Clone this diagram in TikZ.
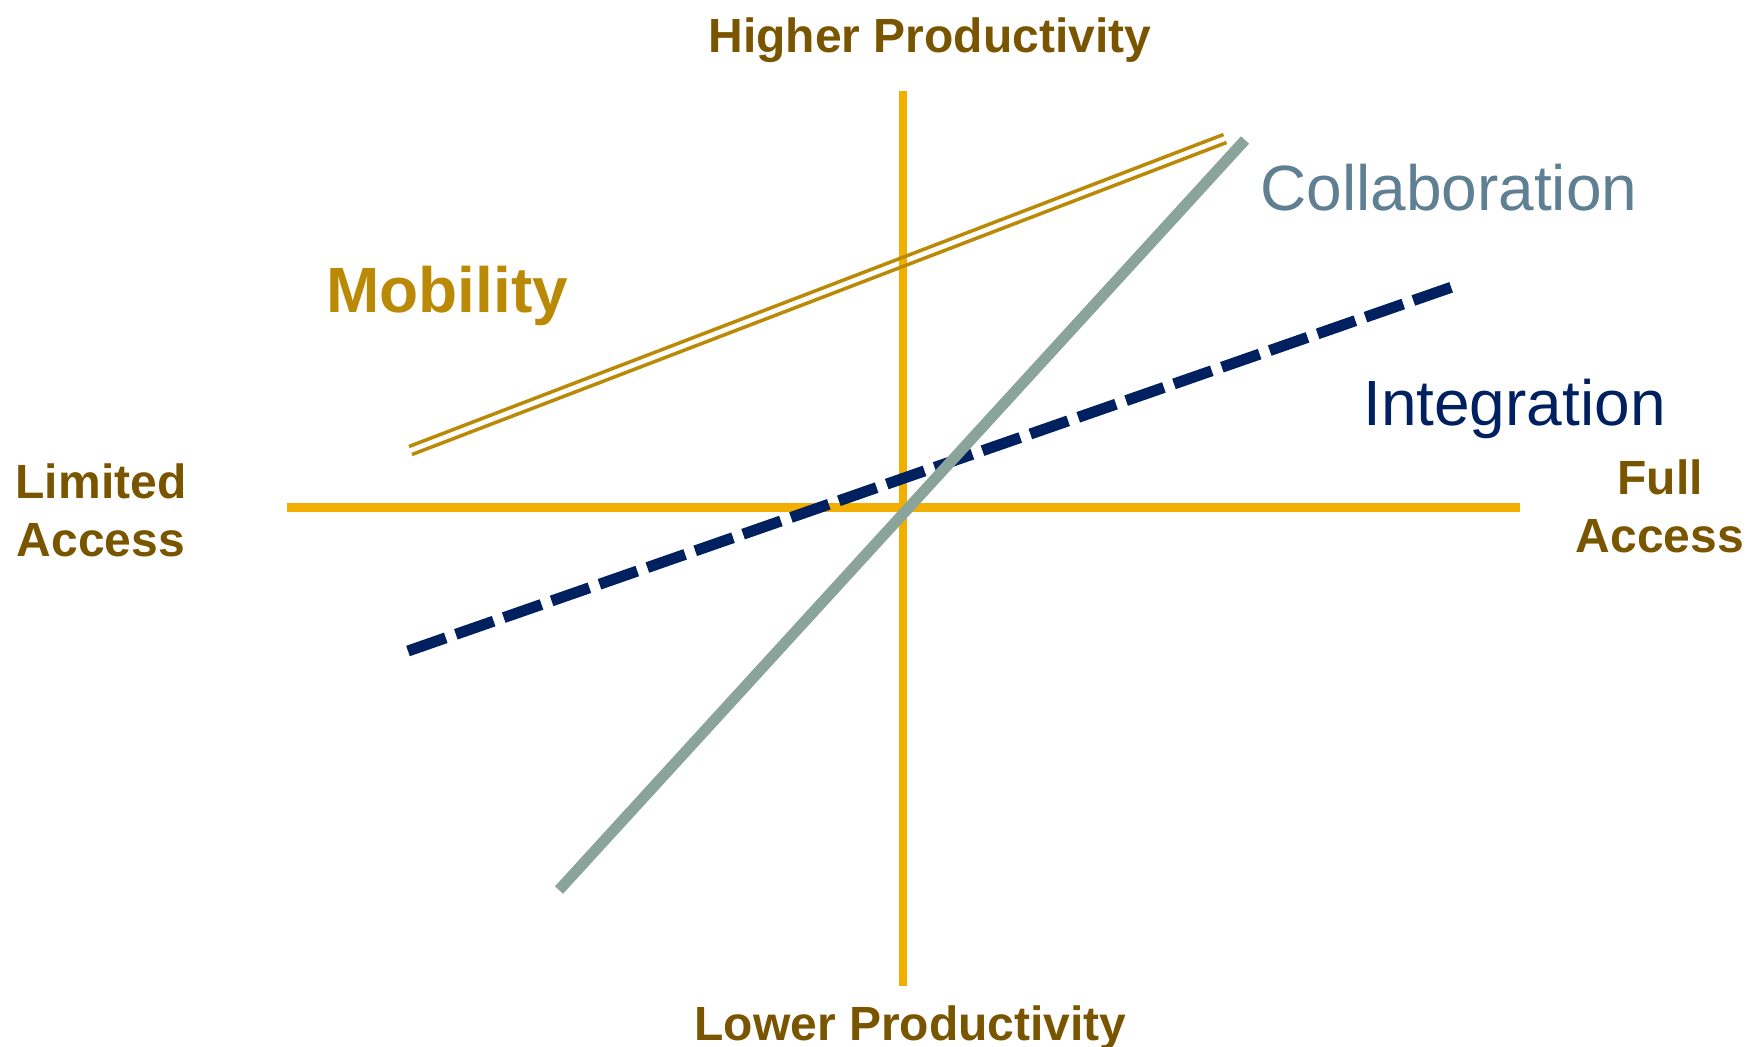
\documentclass[tikz,border=0pt]{standalone}
\usepackage{fontspec}
\setmainfont{Liberation Sans}
\definecolor{axisorange}{RGB}{242,175,0}
\definecolor{axislabel}{RGB}{122,85,0}
\definecolor{mobgold}{RGB}{186,138,6}
\definecolor{collabline}{RGB}{138,163,155}
\definecolor{collabtext}{RGB}{95,127,146}
\definecolor{integnavy}{RGB}{0,32,96}
\tikzset{
  axisline/.style={draw=axisorange},
  axislbl/.style={text=axislabel,font=\fontsize{48}{58}\selectfont\bfseries,inner sep=0pt,align=center},
  mobline/.style={draw=mobgold,line width=3.5pt},
  collabstroke/.style={draw=collabline,line width=11pt},
  integstroke/.style={draw=integnavy,line width=11pt,dash pattern=on 40pt off 10.7pt},
  biglbl/.style={font=\fontsize{64}{72}\selectfont,inner sep=0pt,anchor=base west}
}
\begin{document}
\begin{tikzpicture}[x=1pt,y=-1pt]
\useasboundingbox (0,0) rectangle (1746,1047);
% axes
\coordinate (hl) at (287,507);
\coordinate (hr) at (1520,507);
\coordinate (vt) at (903,91);
\coordinate (vb) at (903,986);
\draw[axisline,line width=9pt] (hl) -- (hr);
\draw[axisline,line width=8pt] (vt) -- (vb);
% axis labels
\node[axislbl,anchor=base] (hp) at (930,52) {Higher Productivity};
\node[axislbl,anchor=base] (lp) at (910.5,1040) {Lower Productivity};
\node[axislbl,anchor=base] (la) at (101,556) {Limited\\Access};
\node[axislbl,anchor=base] (fa) at (1660,552) {Full\\Access};
% mobility (double line)
\coordinate (m1a) at (409,446.5);
\coordinate (m1b) at (1223.5,134.5);
\coordinate (m2a) at (412,454.5);
\coordinate (m2b) at (1226.5,142.5);
\draw[mobline] (m1a) -- (m1b);
\draw[mobline] (m2a) -- (m2b);
% integration (dashed)
\coordinate (ia) at (408,651);
\coordinate (ib) at (1452,287);
\draw[integstroke] (ia) -- (ib);
% collaboration
\coordinate (ca) at (559,890);
\coordinate (cb) at (1245,140);
\draw[collabstroke] (ca) -- (cb);
% labels
\node[biglbl,text=mobgold,font=\fontsize{64}{72}\selectfont\bfseries] (mob) at (326,312) {Mobility};
\node[biglbl,text=collabtext] (col) at (1260,210) {Collaboration};
\node[biglbl,text=integnavy] (int) at (1363,425) {Integration};
\end{tikzpicture}
\end{document}
